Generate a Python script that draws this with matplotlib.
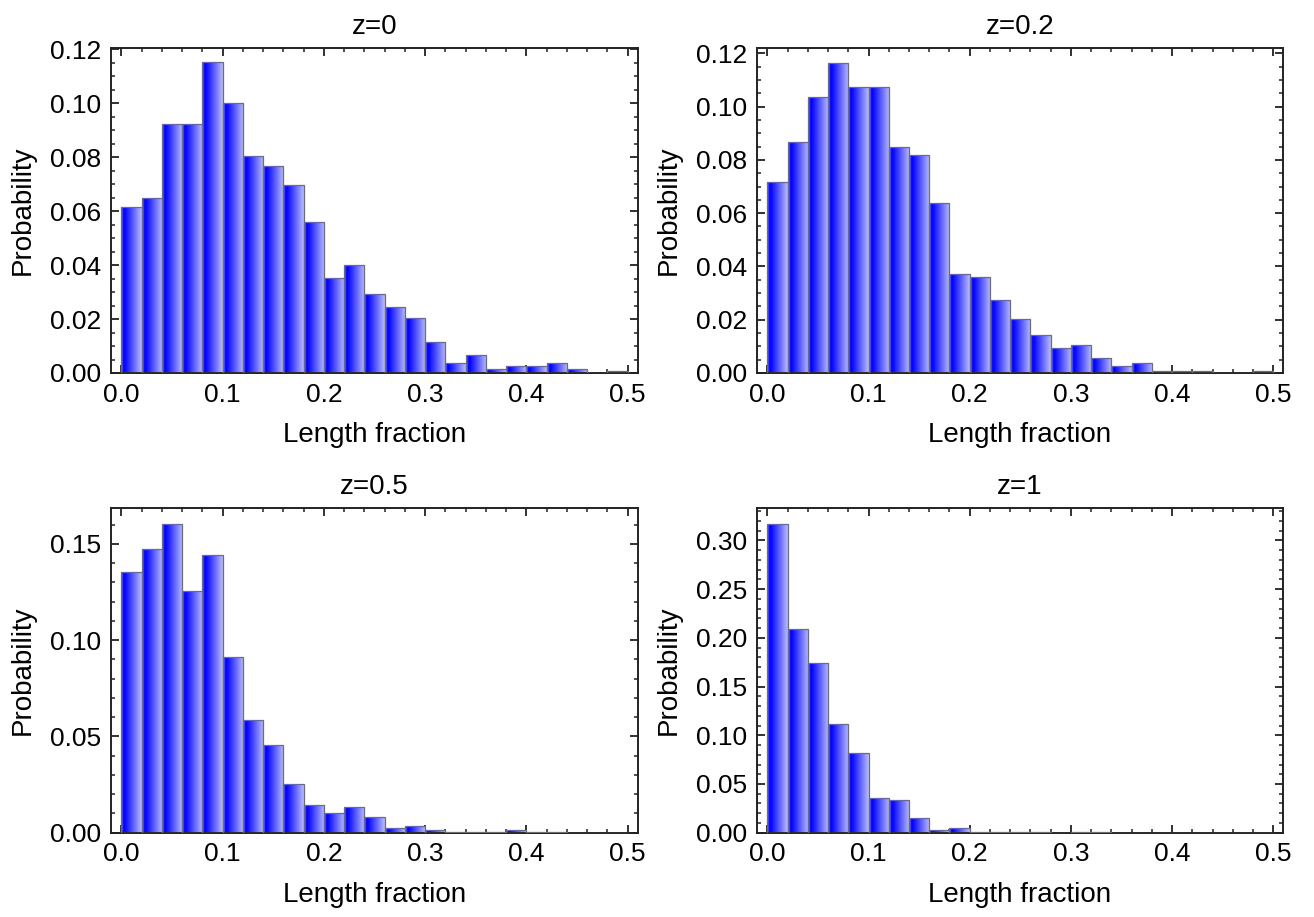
import numpy as np
import matplotlib
matplotlib.use("Agg")
import matplotlib.pyplot as plt
from matplotlib.colors import LinearSegmentedColormap
from matplotlib.ticker import MultipleLocator

plt.rcParams['font.family'] = ['Liberation Sans', 'DejaVu Sans']

# histogram data: 25 bins of width 0.02 on [0, 0.5]
bin_edges = np.round(np.arange(0, 0.5001, 0.02), 4)

prob_z0 = [0.0617, 0.0647, 0.0924, 0.0924, 0.1152, 0.1002, 0.0806, 0.0766, 0.0698, 0.0559,
           0.0352, 0.0401, 0.0292, 0.0243, 0.0204, 0.0116, 0.0037, 0.0067, 0.0016, 0.0026,
           0.0026, 0.0037, 0.0016, 0.0, 0.0008]
prob_z02 = [0.0718, 0.0866, 0.1036, 0.1164, 0.1075, 0.1075, 0.0847, 0.0817, 0.0639, 0.0372,
            0.0362, 0.0274, 0.0203, 0.0144, 0.0095, 0.0105, 0.0055, 0.0026, 0.0036, 0.0006,
            0.0006, 0.0006, 0.0, 0.0, 0.0008]
prob_z05 = [0.1356, 0.1476, 0.1602, 0.1258, 0.1445, 0.0912, 0.0587, 0.0458, 0.0251, 0.0144,
            0.0102, 0.0133, 0.0083, 0.0026, 0.0035, 0.0016, 0.0006, 0.0006, 0.0006, 0.0016,
            0.0006, 0.0006, 0.0, 0.0, 0.0]
prob_z1 = [0.317, 0.2089, 0.174, 0.1113, 0.0818, 0.0353, 0.0336, 0.0151, 0.0031, 0.0051,
           0.0003, 0.0007, 0.0003, 0.0003, 0.0, 0.0007, 0.0003, 0.0, 0.0, 0.0,
           0.0, 0.0, 0.0, 0.0, 0.0]

titles = ['z=0', 'z=0.2', 'z=0.5', 'z=1']
series = [prob_z0, prob_z02, prob_z05, prob_z1]
y_major = [0.02, 0.02, 0.05, 0.05]
y_minor = [0.005, 0.005, 0.01, 0.01]
y_top = [0.1205, 0.122, 0.1685, 0.333]

W, H = 1314, 917
# axes boxes in pixels: left, top, right, bottom
boxes = [(110.7, 48, 637.7, 373), (756.7, 48, 1283.3, 373),
         (110.7, 508.3, 637.7, 832.7), (756.7, 508.3, 1283.3, 832.7)]

grad = LinearSegmentedColormap.from_list(
    'bar', [(0.0, (0.50, 0.50, 1.0)), (0.12, (0.0, 0.0, 1.0)),
            (0.22, (0.05, 0.05, 1.0)), (1.0, (0.72, 0.74, 1.0))])
gradient = np.linspace(0, 1, 64).reshape(1, -1)

fig = plt.figure(figsize=(W / 100, H / 100), dpi=100)

for k, (vals, title) in enumerate(zip(series, titles)):
    l, t, r, b = boxes[k]
    ax = fig.add_axes([l / W, 1 - b / H, (r - l) / W, (b - t) / H])
    widths = np.diff(bin_edges)
    bars = ax.bar(bin_edges[:-1], vals, width=widths, align='edge',
                  facecolor='none', edgecolor='#6e6e6e', linewidth=0.9, zorder=3)
    for p in bars.patches:
        if p.get_height() <= 0:
            continue
        x0, w, h = p.get_x(), p.get_width(), p.get_height()
        im = ax.imshow(gradient, cmap=grad, aspect='auto', extent=(x0, x0 + w, 0, h),
                       interpolation='bilinear', zorder=2)
        im.set_clip_path(p)

    ax.set_xlim(-0.0105, 0.5099)
    ax.set_ylim(0, y_top[k])
    ax.xaxis.set_major_locator(MultipleLocator(0.1))
    ax.xaxis.set_minor_locator(MultipleLocator(0.02))
    ax.yaxis.set_major_locator(MultipleLocator(y_major[k]))
    ax.yaxis.set_minor_locator(MultipleLocator(y_minor[k]))
    ax.xaxis.set_major_formatter(plt.FuncFormatter(lambda v, pos: '%.1f' % v))
    ax.yaxis.set_major_formatter(plt.FuncFormatter(lambda v, pos: '%.2f' % v))
    ax.tick_params(which='both', direction='in', top=True, right=True, color='#222222')
    ax.tick_params(which='major', length=6, width=1.3, labelsize=19, pad=7)
    ax.tick_params(which='minor', length=3.2, width=1.1)
    for s in ax.spines.values():
        s.set_linewidth(1.4)
        s.set_color('#222222')
    ax.set_xlabel('Length fraction', fontsize=20, labelpad=11)
    ax.set_ylabel('Probability', fontsize=20, labelpad=10)
    ax.set_title(title, fontsize=20, pad=10)

fig.savefig('out.png', dpi=100)
